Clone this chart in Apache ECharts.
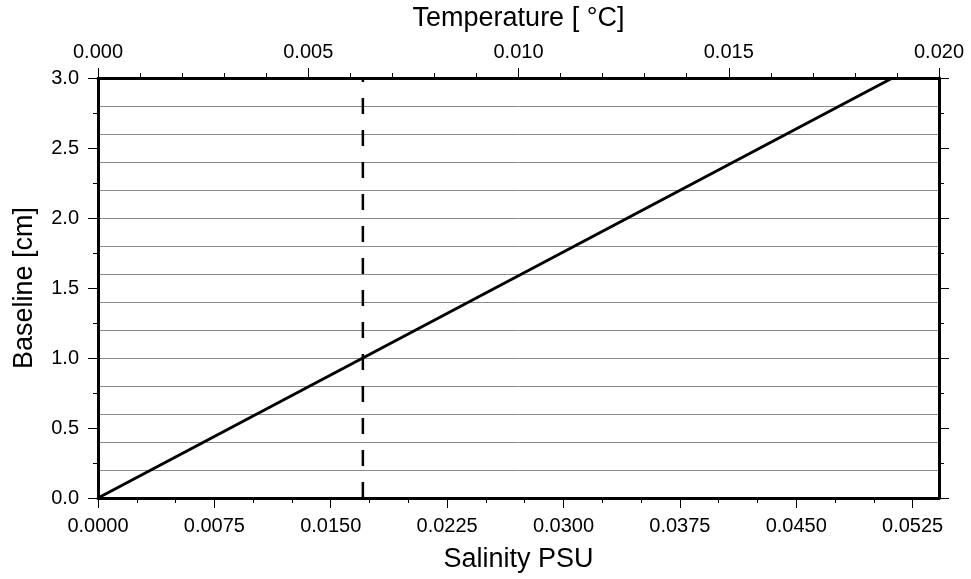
<!DOCTYPE html>
<html>
<head>
<meta charset="utf-8">
<script src="https://cdn.jsdelivr.net/npm/echarts@6/dist/echarts.min.js"></script>
<style>html,body{margin:0;padding:0;background:#fff}#c{width:971px;height:579px}</style>
</head>
<body>
<div id="c"></div>
<script>
// ---- data ----
var salinityRange = [0, 0.0542];
var temperatureRange = [0, 0.020];
var baselineRange = [0, 3.0];
var salinityTicks = [0, 0.0075, 0.0150, 0.0225, 0.0300, 0.0375, 0.0450, 0.0525];
var salinityMinorTicks = [0.0025, 0.0050, 0.0100, 0.0125, 0.0175, 0.0200, 0.0250, 0.0275, 0.0325, 0.0350, 0.0400, 0.0425, 0.0475, 0.0500];
var temperatureTicks = [0, 0.005, 0.010, 0.015, 0.020];
var temperatureMinorTicks = [0.001, 0.002, 0.003, 0.004, 0.006, 0.007, 0.008, 0.009, 0.011, 0.012, 0.013, 0.014, 0.016, 0.017, 0.018, 0.019];
var baselineTicks = [0, 0.5, 1.0, 1.5, 2.0, 2.5, 3.0];
var baselineMinorTicks = [0.25, 0.75, 1.25, 1.75, 2.25, 2.75];
var gridStep = 0.2;
var lineSalinity = [0, 0.0512];
var lineBaseline = [0, 3.0];
var markerSalinity = 0.01707;
var markerBaseline = [0, 3.0];

var FONT = 'Liberation Sans';
var black = '#000';

function mainX(pos, range, ticks, dec, name, nameGap, margin) {
  return {
    type: 'value', position: pos, min: range[0], max: range[1],
    name: name, nameLocation: 'middle', nameGap: nameGap,
    nameTextStyle: {fontFamily: FONT, fontSize: 27, color: black},
    axisLine: {show: true, onZero: false, lineStyle: {color: black, width: 3}},
    axisTick: {show: true, inside: false, length: 10, customValues: ticks, lineStyle: {color: black, width: 1}},
    axisLabel: {show: true, customValues: ticks, margin: margin, fontFamily: FONT, fontSize: 20, color: black,
      formatter: function (v) { return v.toFixed(dec); }},
    splitLine: {show: false}
  };
}
function minorX(pos, range, ticks) {
  return {
    type: 'value', position: pos, min: range[0], max: range[1],
    axisLine: {show: false, onZero: false},
    axisTick: {show: true, inside: false, length: 5, customValues: ticks, lineStyle: {color: black, width: 1}},
    axisLabel: {show: false}, splitLine: {show: false}
  };
}
function yAx(pos, ticks, len, opts) {
  var a = {
    type: 'value', position: pos, min: baselineRange[0], max: baselineRange[1],
    axisLine: {show: !!opts.line, onZero: false, lineStyle: {color: black, width: 3}},
    axisTick: {show: true, inside: false, length: len, customValues: ticks, lineStyle: {color: black, width: 1}},
    axisLabel: {show: !!opts.label, customValues: ticks, margin: 19, fontFamily: FONT, fontSize: 20, color: black,
      formatter: function (v) { return v.toFixed(1); }},
    splitLine: {show: false}
  };
  if (opts.name) {
    a.name = opts.name; a.nameLocation = 'middle'; a.nameGap = 60;
    a.nameTextStyle = {fontFamily: FONT, fontSize: 27, color: black};
  }
  return a;
}

var chart = echarts.init(document.getElementById('c'));
chart.setOption({
  animation: false,
  backgroundColor: '#fff',
  grid: {left: 98, right: 32, top: 78, bottom: 81, containLabel: false},
  xAxis: [
    mainX('bottom', salinityRange, salinityTicks, 4, 'Salinity PSU', 48, 18),
    minorX('bottom', salinityRange, salinityMinorTicks),
    mainX('top', temperatureRange, temperatureTicks, 3, 'Temperature [ °C]', 46, 16),
    minorX('top', temperatureRange, temperatureMinorTicks)
  ],
  yAxis: [
    yAx('left', baselineTicks, 10, {line: true, label: true, name: 'Baseline [cm]'}),
    yAx('left', baselineMinorTicks, 5, {}),
    yAx('right', baselineTicks, 10, {line: true}),
    yAx('right', baselineMinorTicks, 5, {}),
    {
      type: 'value', position: 'left', min: baselineRange[0], max: baselineRange[1], interval: gridStep,
      axisLine: {show: false}, axisTick: {show: false}, axisLabel: {show: false},
      splitLine: {show: true, lineStyle: {color: '#8a8a8a', width: 1}}
    }
  ],
  series: [
    {
      type: 'line', xAxisIndex: 0, yAxisIndex: 0, symbol: 'none', silent: true, z: 5,
      lineStyle: {color: black, width: 3},
      data: lineSalinity.map(function (s, i) { return [s, lineBaseline[i]]; })
    },
    {
      type: 'line', xAxisIndex: 0, yAxisIndex: 0, symbol: 'none', silent: true, z: 4,
      lineStyle: {color: black, width: 2.5, type: [16, 16]},
      data: markerBaseline.map(function (b) { return [markerSalinity, b]; })
    }
  ]
});
</script>
</body>
</html>
